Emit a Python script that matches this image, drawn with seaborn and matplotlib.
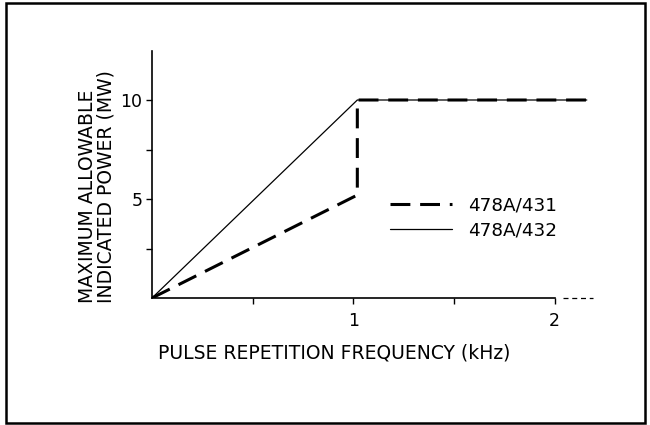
import matplotlib
matplotlib.use("Agg")
import matplotlib.pyplot as plt
from matplotlib.patches import Rectangle
import seaborn as sns
import pandas as pd

# ---- data ----
freq_431 = [0.0, 1.02, 1.02, 2.16]
power_431 = [0.0, 5.2, 10.0, 10.0]
freq_432 = [0.0, 1.02, 2.16]
power_432 = [0.0, 10.0, 10.0]
series_labels = ["478A/431", "478A/432"]
x_ticks = [0.5, 1.0, 1.5, 2.0]
x_tick_labels = ["", "1", "", "2"]
y_ticks = [2.5, 5.0, 7.5, 10.0]
y_tick_labels = ["", "5", "", "10"]

sns.set_theme(style="white")
plt.rcParams["font.family"] = ["DejaVu Sans"]

W, H = 650, 425
fig = plt.figure(figsize=(6.5, 4.25), dpi=100)
x0, y0 = 152, 298
px_per_x = 201.3
px_per_y = 19.8
xmax, ymax = 2.2, 12.5
ax = fig.add_axes([x0 / W, (H - y0) / H, xmax * px_per_x / W, ymax * px_per_y / H])

df431 = pd.DataFrame({"freq": freq_431, "power": power_431})
df432 = pd.DataFrame({"freq": freq_432, "power": power_432})

sns.lineplot(data=df431, x="freq", y="power", ax=ax, color="black", lw=2.2,
             sort=False, estimator=None, label=series_labels[0])
ax.lines[-1].set_dashes((6.5, 3.2))
sns.lineplot(data=df432, x="freq", y="power", ax=ax, color="black", lw=0.9,
             sort=False, estimator=None, label=series_labels[1])

ax.set_xlim(0, xmax)
ax.set_ylim(0, ymax)
ax.set_xticks(x_ticks)
ax.set_xticklabels(x_tick_labels)
ax.set_yticks(y_ticks)
ax.set_yticklabels(y_tick_labels)
ax.tick_params(axis="both", direction="out", length=4, width=1.0, color="black",
               labelsize=12.5, labelcolor="black", bottom=True, left=True)
ax.tick_params(axis="x", pad=6)
ax.tick_params(axis="y", pad=3)

for s in ["top", "right"]:
    ax.spines[s].set_visible(False)
for s in ["left", "bottom"]:
    ax.spines[s].set_color("black")
    ax.spines[s].set_linewidth(1.2)
ax.spines["bottom"].set_bounds(0, 2.0)
ax.plot([2.04, 2.19], [0, 0], color="black", lw=0.9, ls=(0, (4, 3)), clip_on=False)

ax.set_xlabel("")
ax.set_ylabel("")
fig.text(334 / W, 1 - 353 / H, "PULSE REPETITION FREQUENCY (kHz)", ha="center",
         va="center", fontsize=13.5, color="black")
fig.text(97 / W, 1 - 303 / H, "MAXIMUM ALLOWABLE\nINDICATED POWER (MW)",
         rotation=90, ha="center", va="bottom", multialignment="left",
         fontsize=13.5, color="black", linespacing=0.95)

leg = ax.legend(loc="center left", bbox_to_anchor=(390 / W, 1 - 218 / H),
                bbox_transform=fig.transFigure, frameon=False, fontsize=13.2,
                handlelength=3.4, handletextpad=0.85, labelspacing=0.35,
                borderpad=0, borderaxespad=0)
for t in leg.get_texts():
    t.set_color("black")

fig.patches.append(Rectangle((6 / W, 2 / H), 639 / W, 420 / H, transform=fig.transFigure,
                             fill=False, edgecolor="black", lw=1.8))

fig.savefig("out.png", dpi=100, facecolor="white")
